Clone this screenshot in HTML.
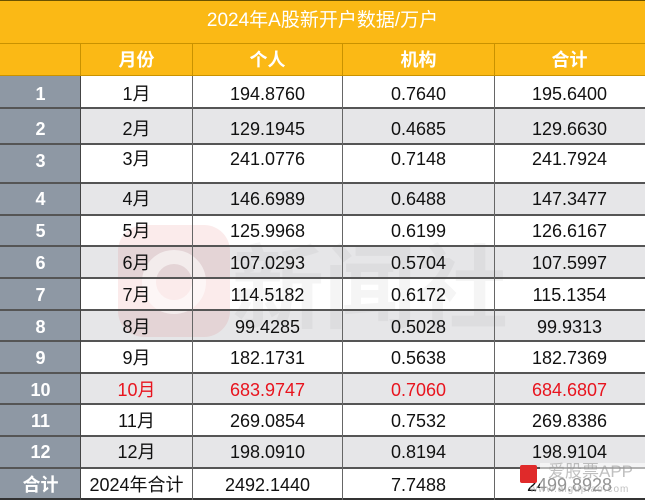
<!DOCTYPE html>
<html><head><meta charset="utf-8">
<style>
*{margin:0;padding:0;box-sizing:border-box}
body{width:645px;height:500px;overflow:hidden;background:#fff;position:relative;font-family:"Liberation Sans","Noto Sans CJK SC",sans-serif;}
.abs{position:absolute}
.title{left:0;top:0;width:645px;height:44px;background:#FBB915;border-top:1px solid #6b5200;border-bottom:1px solid #C99200}
.hdr{left:0;top:44px;width:645px;height:32px;background:#FBB915}
.col0{left:0;top:76px;width:81px;height:424px;background:#8E98A4}
.row{position:absolute;left:81px;width:564px}
.hl{position:absolute;left:0;width:645px;height:2px;background:#555}
.vl{position:absolute;width:1px;background:#666}
.t{position:absolute;height:22px;line-height:22px;text-align:center;font-size:18px;color:#111;white-space:nowrap}
.w{color:#fff}
.b{font-weight:bold}
.r{color:#E8141E}
</style></head><body>
<div class="abs title"></div>
<div class="abs hdr"></div>
<div class="abs col0"></div>
<!-- zebra rows -->
<div class="row" style="top:108px;height:36px;background:#E6E6E8"></div>
<div class="row" style="top:183px;height:32px;background:#E6E6E8"></div>
<div class="row" style="top:246px;height:32px;background:#E6E6E8"></div>
<div class="row" style="top:310px;height:31px;background:#E6E6E8"></div>
<div class="row" style="top:373px;height:31px;background:#E6E6E8"></div>
<div class="row" style="top:436px;height:32px;background:#E6E6E8"></div>

<!-- watermark -->
<div class="abs" style="left:118px;top:225px;width:112px;height:112px;border-radius:26px;background:rgba(215,60,60,0.10)"></div>
<div class="abs" style="left:142px;top:250px;width:64px;height:64px;border-radius:50%;border:14px solid rgba(255,255,255,0.55)"></div>
<div class="abs" style="left:232px;top:232px;font-size:92px;line-height:100px;font-weight:bold;color:rgba(120,120,120,0.07);font-family:'Noto Sans CJK SC',sans-serif">新闻社</div>

<!-- horizontal lines -->
<div class="abs" style="left:0;top:75px;width:645px;height:1px;background:#C99200"></div>
<div class="hl" style="top:107px"></div>
<div class="hl" style="top:143px"></div>
<div class="hl" style="top:182px"></div>
<div class="hl" style="top:214px"></div>
<div class="hl" style="top:245px"></div>
<div class="hl" style="top:277px"></div>
<div class="hl" style="top:309px"></div>
<div class="hl" style="top:340px"></div>
<div class="hl" style="top:372px"></div>
<div class="hl" style="top:403px"></div>
<div class="hl" style="top:435px"></div>
<div class="hl" style="top:467px"></div>
<div class="hl" style="top:498px;background:#333"></div>
<!-- vertical lines -->
<div class="vl" style="left:80px;top:44px;height:32px;background:#C99200"></div>
<div class="vl" style="left:192px;top:44px;height:32px;background:#C99200"></div>
<div class="vl" style="left:342px;top:44px;height:32px;background:#C99200"></div>
<div class="vl" style="left:494px;top:44px;height:32px;background:#C99200"></div>
<div class="vl" style="left:80px;top:76px;height:424px;background:#444"></div>
<div class="vl" style="left:192px;top:76px;height:424px"></div>
<div class="vl" style="left:342px;top:76px;height:424px"></div>
<div class="vl" style="left:494px;top:76px;height:424px"></div>

<!-- title -->
<div class="t w" style="left:0;width:645px;top:10px;font-size:19px;">2024年A股新开户数据/万户</div>
<!-- header -->
<div class="t w b" style="left:81px;width:111px;top:49px">月份</div>
<div class="t w b" style="left:192px;width:151px;top:49px">个人</div>
<div class="t w b" style="left:343px;width:151px;top:49px">机构</div>
<div class="t w b" style="left:494px;width:151px;top:49px">合计</div>

<!-- rows -->
<div class="t w b" style="left:0;width:81px;top:83px">1</div>
<div class="t" style="left:81px;width:111px;top:83px">1月</div>
<div class="t" style="left:192px;width:151px;top:83px">194.8760</div>
<div class="t" style="left:343px;width:151px;top:83px">0.7640</div>
<div class="t" style="left:494px;width:151px;top:83px">195.6400</div>

<div class="t w b" style="left:0;width:81px;top:118px">2</div>
<div class="t" style="left:81px;width:111px;top:118px">2月</div>
<div class="t" style="left:192px;width:151px;top:118px">129.1945</div>
<div class="t" style="left:343px;width:151px;top:118px">0.4685</div>
<div class="t" style="left:494px;width:151px;top:118px">129.6630</div>

<div class="t w b" style="left:0;width:81px;top:150px">3</div>
<div class="t" style="left:81px;width:111px;top:148px">3月</div>
<div class="t" style="left:192px;width:151px;top:148px">241.0776</div>
<div class="t" style="left:343px;width:151px;top:148px">0.7148</div>
<div class="t" style="left:494px;width:151px;top:148px">241.7924</div>

<div class="t w b" style="left:0;width:81px;top:188px">4</div>
<div class="t" style="left:81px;width:111px;top:188px">4月</div>
<div class="t" style="left:192px;width:151px;top:188px">146.6989</div>
<div class="t" style="left:343px;width:151px;top:188px">0.6488</div>
<div class="t" style="left:494px;width:151px;top:188px">147.3477</div>

<div class="t w b" style="left:0;width:81px;top:220px">5</div>
<div class="t" style="left:81px;width:111px;top:220px">5月</div>
<div class="t" style="left:192px;width:151px;top:220px">125.9968</div>
<div class="t" style="left:343px;width:151px;top:220px">0.6199</div>
<div class="t" style="left:494px;width:151px;top:220px">126.6167</div>

<div class="t w b" style="left:0;width:81px;top:252px">6</div>
<div class="t" style="left:81px;width:111px;top:252px">6月</div>
<div class="t" style="left:192px;width:151px;top:252px">107.0293</div>
<div class="t" style="left:343px;width:151px;top:252px">0.5704</div>
<div class="t" style="left:494px;width:151px;top:252px">107.5997</div>

<div class="t w b" style="left:0;width:81px;top:284px">7</div>
<div class="t" style="left:81px;width:111px;top:284px">7月</div>
<div class="t" style="left:192px;width:151px;top:284px">114.5182</div>
<div class="t" style="left:343px;width:151px;top:284px">0.6172</div>
<div class="t" style="left:494px;width:151px;top:284px">115.1354</div>

<div class="t w b" style="left:0;width:81px;top:316px">8</div>
<div class="t" style="left:81px;width:111px;top:316px">8月</div>
<div class="t" style="left:192px;width:151px;top:316px">99.4285</div>
<div class="t" style="left:343px;width:151px;top:316px">0.5028</div>
<div class="t" style="left:494px;width:151px;top:316px">99.9313</div>

<div class="t w b" style="left:0;width:81px;top:347px">9</div>
<div class="t" style="left:81px;width:111px;top:347px">9月</div>
<div class="t" style="left:192px;width:151px;top:347px">182.1731</div>
<div class="t" style="left:343px;width:151px;top:347px">0.5638</div>
<div class="t" style="left:494px;width:151px;top:347px">182.7369</div>

<div class="t w b" style="left:0;width:81px;top:379px">10</div>
<div class="t r" style="left:81px;width:111px;top:379px">10月</div>
<div class="t r" style="left:192px;width:151px;top:379px">683.9747</div>
<div class="t r" style="left:343px;width:151px;top:379px">0.7060</div>
<div class="t r" style="left:494px;width:151px;top:379px">684.6807</div>

<div class="t w b" style="left:0;width:81px;top:410px">11</div>
<div class="t" style="left:81px;width:111px;top:410px">11月</div>
<div class="t" style="left:192px;width:151px;top:410px">269.0854</div>
<div class="t" style="left:343px;width:151px;top:410px">0.7532</div>
<div class="t" style="left:494px;width:151px;top:410px">269.8386</div>

<div class="t w b" style="left:0;width:81px;top:441px">12</div>
<div class="t" style="left:81px;width:111px;top:441px">12月</div>
<div class="t" style="left:192px;width:151px;top:441px">198.0910</div>
<div class="t" style="left:343px;width:151px;top:441px">0.8194</div>
<div class="t" style="left:494px;width:151px;top:441px">198.9104</div>

<div class="t w b" style="left:0;width:81px;top:474px">合计</div>
<div class="t" style="left:81px;width:111px;top:474px">2024年合计</div>
<div class="t" style="left:192px;width:151px;top:474px">2492.1440</div>
<div class="t" style="left:343px;width:151px;top:474px">7.7488</div>
<div class="t" style="left:494px;width:151px;top:474px">2499.8928</div>

<!-- bottom-right watermark -->
<div class="abs" style="left:520px;top:465px;width:17px;height:18px;background:#E02A2A;border-radius:2px"></div>
<div class="abs" style="left:540px;top:463px;width:105px;height:35px;background:rgba(255,255,255,0.55)"></div>
<div class="abs" style="left:548px;top:462px;font-size:17px;line-height:20px;color:rgba(150,150,150,0.6);white-space:nowrap">爱股票APP</div>
<div class="abs" style="left:530px;top:484px;font-size:10px;line-height:12px;color:rgba(150,150,150,0.6);white-space:nowrap;letter-spacing:1px">www.aigupiao.com</div>
</body></html>
